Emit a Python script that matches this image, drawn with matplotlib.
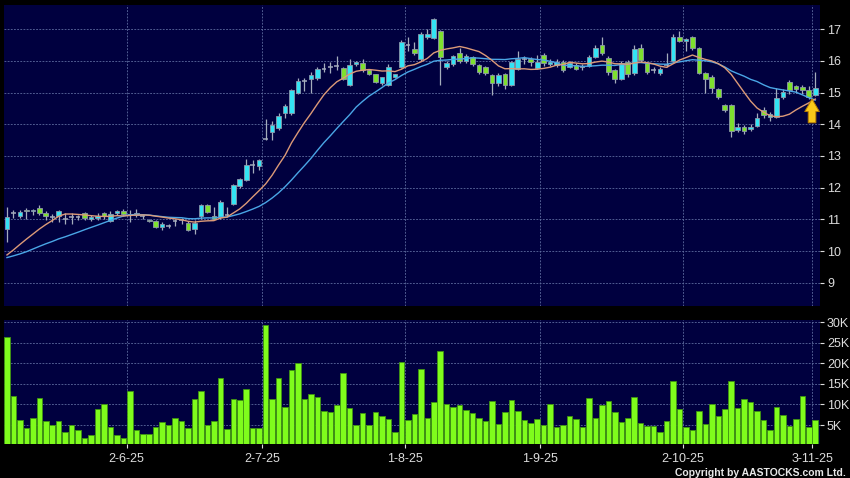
import numpy as np
import pandas as pd
import matplotlib
matplotlib.use("Agg")
import matplotlib.pyplot as plt

plt.rcParams["font.family"] = ["Liberation Sans", "DejaVu Sans"]

# ---------------- data ----------------
opens = [10.68, 11.19, 11.09, 11.30, 11.25, 11.36, 11.19, 11.08, 11.12, 11.00,
         11.06, 11.06, 11.19, 11.02, 11.04, 11.19, 10.96, 11.20, 11.27, 11.15,
         11.13, 11.10, 10.99, 10.95, 10.77, 10.79, 10.96, 10.97, 10.90, 10.69,
         11.11, 11.45, 11.11, 11.07, 11.15, 11.48, 12.06, 12.25, 12.72, 12.69,
         13.55, 13.77, 13.88, 14.35, 14.35, 15.00, 15.38, 15.42, 15.45, 15.76,
         15.82, 15.84, 15.79, 15.24, 15.90, 15.95, 15.72, 15.58, 15.30, 15.24,
         15.50, 15.82, 16.50, 16.37, 16.05, 16.77, 16.72, 16.96, 15.80, 15.90,
         16.24, 16.01, 16.12, 15.86, 15.80, 15.56, 15.30, 15.58, 15.24, 15.74,
         16.05, 16.06, 15.77, 16.19, 15.90, 15.87, 15.98, 15.82, 15.87, 15.82,
         15.85, 16.14, 16.49, 16.08, 15.70, 15.43, 15.98, 15.61, 16.40, 15.93,
         15.72, 15.61, 15.88, 16.00, 16.77, 16.63, 16.77, 16.40, 15.61, 15.49,
         15.11, 14.61, 14.61, 13.82, 13.93, 13.85, 13.95, 14.45, 14.24, 14.24,
         14.87, 15.35, 15.22, 15.19, 15.09, 14.91]
highs = [11.38, 11.30, 11.29, 11.36, 11.34, 11.45, 11.27, 11.18, 11.29, 11.19,
         11.19, 11.15, 11.24, 11.14, 11.19, 11.23, 11.25, 11.30, 11.32, 11.30,
         11.33, 11.15, 11.02, 10.98, 10.92, 10.86, 11.02, 11.05, 10.95, 10.97,
         11.50, 11.50, 11.40, 11.60, 11.40, 12.12, 12.30, 12.90, 12.88, 12.92,
         14.17, 14.10, 14.35, 14.65, 15.12, 15.45, 15.45, 15.65, 15.80, 15.95,
         15.98, 16.15, 15.82, 16.05, 16.00, 16.05, 15.76, 15.60, 15.50, 15.90,
         15.60, 16.66, 16.75, 16.60, 16.90, 17.00, 17.35, 16.98, 16.00, 16.20,
         16.40, 16.22, 16.15, 15.90, 15.85, 15.60, 15.62, 15.62, 16.00, 16.30,
         16.15, 16.12, 16.20, 16.25, 16.05, 16.05, 16.02, 16.00, 15.95, 15.90,
         16.20, 16.50, 16.77, 16.15, 15.75, 16.00, 16.02, 16.50, 16.55, 15.98,
         15.80, 15.80, 16.25, 16.85, 16.95, 16.72, 16.80, 16.45, 15.65, 15.55,
         15.15, 14.65, 14.65, 14.05, 13.98, 14.00, 14.35, 14.55, 14.40, 15.15,
         15.12, 15.40, 15.25, 15.25, 15.20, 15.64]
lows = [10.29, 11.05, 11.03, 11.00, 11.15, 11.14, 10.99, 10.93, 10.93, 10.86,
        10.84, 10.97, 10.98, 10.96, 10.99, 11.00, 10.92, 11.15, 11.12, 10.93,
        11.08, 11.02, 10.93, 10.72, 10.66, 10.74, 10.80, 10.85, 10.62, 10.55,
        11.00, 11.20, 11.00, 11.00, 11.08, 11.45, 12.00, 12.20, 12.47, 12.55,
        13.50, 13.50, 13.82, 14.20, 14.30, 14.95, 15.05, 15.00, 15.40, 15.65,
        15.62, 15.70, 15.40, 15.20, 15.85, 15.65, 15.55, 15.30, 15.25, 15.20,
        15.45, 15.78, 16.30, 16.20, 16.00, 16.70, 16.70, 15.24, 15.75, 15.85,
        15.95, 15.95, 15.85, 15.60, 15.55, 14.93, 15.20, 15.10, 15.20, 15.70,
        15.90, 15.85, 15.75, 15.85, 15.85, 15.80, 15.65, 15.78, 15.70, 15.72,
        15.82, 16.10, 16.20, 15.55, 15.30, 15.40, 15.50, 15.55, 15.98, 15.60,
        15.62, 15.55, 15.80, 15.95, 16.60, 16.30, 16.35, 15.60, 15.00, 15.00,
        14.80, 14.40, 13.60, 13.75, 13.70, 13.80, 13.90, 14.20, 14.10, 14.20,
        14.80, 14.95, 15.00, 14.95, 14.80, 14.88]
closes = [11.06, 11.19, 11.22, 11.27, 11.29, 11.20, 11.12, 11.08, 11.25, 11.00,
          11.06, 11.06, 11.04, 11.06, 11.12, 11.12, 11.18, 11.27, 11.16, 11.15,
          11.19, 11.10, 10.96, 10.75, 10.84, 10.79, 10.96, 10.97, 10.67, 10.90,
          11.45, 11.24, 11.02, 11.55, 11.15, 12.09, 12.26, 12.72, 12.72, 12.88,
          13.55, 13.98, 14.26, 14.59, 15.09, 15.38, 15.38, 15.55, 15.75, 15.76,
          15.82, 15.84, 15.43, 15.87, 15.97, 15.72, 15.59, 15.34, 15.48, 15.82,
          15.58, 16.59, 16.50, 16.24, 16.84, 16.84, 17.32, 16.14, 15.93, 16.16,
          16.01, 16.16, 15.90, 15.66, 15.61, 15.32, 15.56, 15.23, 15.98, 16.06,
          16.05, 15.96, 15.96, 15.93, 15.98, 15.98, 15.72, 15.95, 15.75, 15.82,
          16.14, 16.42, 16.26, 15.66, 15.43, 15.93, 15.58, 16.37, 16.03, 15.64,
          15.72, 15.74, 15.88, 16.77, 16.63, 16.69, 16.40, 15.61, 15.42, 15.14,
          14.87, 14.45, 13.79, 13.93, 13.79, 13.93, 14.21, 14.30, 14.31, 14.82,
          15.03, 15.09, 15.12, 15.09, 14.87, 15.14]
# daily volume, thousands of shares
volumes_k = [26.5, 12.1, 6.1, 4.2, 6.8, 11.6, 6.0, 5.0, 5.9, 3.4,
             4.9, 3.9, 1.9, 2.6, 9.0, 10.2, 4.6, 2.5, 1.9, 13.2,
             3.7, 2.8, 2.9, 4.5, 5.8, 4.9, 6.7, 6.0, 4.2, 11.3,
             13.2, 5.1, 5.9, 16.4, 4.0, 11.3, 11.0, 13.8, 4.3, 4.2,
             29.3, 11.3, 16.4, 9.5, 18.3, 20.0, 11.4, 12.6, 11.7, 8.5,
             8.2, 9.9, 17.7, 9.1, 5.0, 8.0, 4.9, 8.2, 7.3, 6.5,
             3.3, 20.4, 6.1, 7.8, 18.6, 6.8, 10.5, 23.0, 10.1, 9.5,
             9.8, 8.7, 8.0, 6.8, 6.0, 10.8, 5.2, 8.2, 11.1, 8.3,
             6.3, 5.6, 6.4, 5.1, 10.1, 4.5, 5.0, 7.3, 6.5, 4.4,
             11.6, 6.8, 9.9, 10.9, 8.1, 5.8, 6.6, 11.9, 5.6, 4.8,
             4.7, 3.4, 6.0, 15.8, 8.9, 4.4, 3.9, 8.5, 5.2, 10.2,
             7.3, 8.9, 15.8, 9.2, 11.4, 10.6, 8.3, 6.1, 3.8, 9.4,
             7.5, 4.7, 6.5, 12.1, 4.5, 6.2]
# closes before the visible window (feed the moving averages at the left edge)
prior_closes = [10.1, 10.0, 9.9, 9.6, 9.5, 9.5, 9.6, 9.6, 9.7, 9.6,
                9.6, 9.5, 9.6, 9.7, 9.6, 9.7, 9.8, 9.9, 10.3]
price_ticks = [9, 10, 11, 12, 13, 14, 15, 16, 17]
vol_ticks = [5, 10, 15, 20, 25, 30]
date_tick_bars = [19, 40, 62, 83, 105, 125]
date_tick_labels = ["2-6-25", "2-7-25", "1-8-25", "1-9-25", "2-10-25", "3-11-25"]

# ---------------- style ----------------
NAVY = "#00003f"
GRID = "#5d6b9e"
CYAN = "#33e4f4"
GREEN = "#7ee02e"
EDGE = "#8e98aa"
WICK = "#a4acbc"
LIME = "#7ffc1c"
LIME_EDGE = "#3f9412"
ORANGE = "#dc9a78"
BLUE = "#4aa6e6"
TXT = "#dcdcdc"

W, H = 850, 478
fig = plt.figure(figsize=(W / 100, H / 100), dpi=100, facecolor="black")
ax1 = fig.add_axes([4 / W, 1 - 306 / H, 816 / W, 301 / H], facecolor=NAVY)
ax2 = fig.add_axes([4 / W, 1 - 443.5 / H, 816 / W, 123.5 / H], facecolor=NAVY)

o = np.array(opens); h = np.array(highs); l = np.array(lows); c = np.array(closes)
x = np.arange(len(c))
up = c > o + 0.015
dn = c < o - 0.015
dj = ~(up | dn)
bw = 0.72

ax1.vlines(x, l, h, color=WICK, lw=0.9, zorder=2)
ax1.bar(x[up], (c - o)[up], bottom=o[up], width=bw, color=CYAN,
        edgecolor=EDGE, linewidth=0.6, zorder=3)
ax1.bar(x[dn], (o - c)[dn], bottom=c[dn], width=bw, color=GREEN,
        edgecolor=EDGE, linewidth=0.6, zorder=3)
ax1.hlines(c[dj], x[dj] - bw / 2, x[dj] + bw / 2, color=WICK, lw=1.1, zorder=3)

allc = pd.Series(prior_closes + closes)
n0 = len(prior_closes)
ma10 = allc.rolling(10).mean().to_numpy()[n0:]
ma20 = allc.rolling(20).mean().to_numpy()[n0:]
ax1.plot(x, ma20, color=BLUE, lw=1.0, zorder=4)
ax1.plot(x, ma10, color=ORANGE, lw=1.0, zorder=4)

# signal arrow pointing at the end of the short moving average
ax1.annotate("", xy=(x[-1] - 0.5, ma10[-1]), xytext=(x[-1] - 0.5, ma10[-1] - 0.75),
             arrowprops=dict(arrowstyle="simple,head_length=0.9,head_width=1.05,tail_width=0.55",
                             fc="#f9c81a", ec="#b77c00", lw=0.7, shrinkA=0, shrinkB=0,
                             mutation_scale=10), zorder=6)

xlim = (-0.46, 125.73)
tick_pos = np.array(date_tick_bars) - 0.5
gridkw = dict(color=GRID, linestyle=(0, (2.2, 1.6)), linewidth=0.6)

ax1.set_xlim(*xlim)
ax1.set_ylim(8.264, 17.767)
ax1.set_yticks(price_ticks)
ax1.set_yticklabels([str(t) for t in price_ticks])
ax1.set_xticks(tick_pos)
ax1.grid(True, **gridkw)
ax1.set_axisbelow(True)
ax1.yaxis.tick_right()
ax1.tick_params(axis="y", colors=TXT, labelsize=9, length=3, width=0.8, pad=2)
ax1.tick_params(axis="x", length=0, labelbottom=False)

ax2.bar(x, volumes_k, width=0.86, color=LIME, edgecolor=LIME_EDGE, linewidth=0.6, zorder=3)
ax2.set_xlim(*xlim)
ax2.set_ylim(0.5, 30.56)
ax2.set_yticks(vol_ticks)
ax2.set_yticklabels([f"{v}K" for v in vol_ticks])
ax2.set_xticks(tick_pos)
ax2.set_xticklabels(date_tick_labels)
ax2.grid(True, **gridkw)
ax2.set_axisbelow(True)
ax2.yaxis.tick_right()
ax2.tick_params(axis="y", colors=TXT, labelsize=9, length=3, width=0.8, pad=2)
ax2.tick_params(axis="x", colors=TXT, labelsize=9, length=3, width=0.8, pad=3.5)

for ax in (ax1, ax2):
    for s in ax.spines.values():
        s.set_visible(False)

fig.text(846 / W, 1 - 476 / H, "Copyright by AASTOCKS.com Ltd.", ha="right",
         va="baseline", color="#e8e8e8", fontsize=7.5, fontweight="bold")

fig.savefig("out.png", dpi=100, facecolor="black")
